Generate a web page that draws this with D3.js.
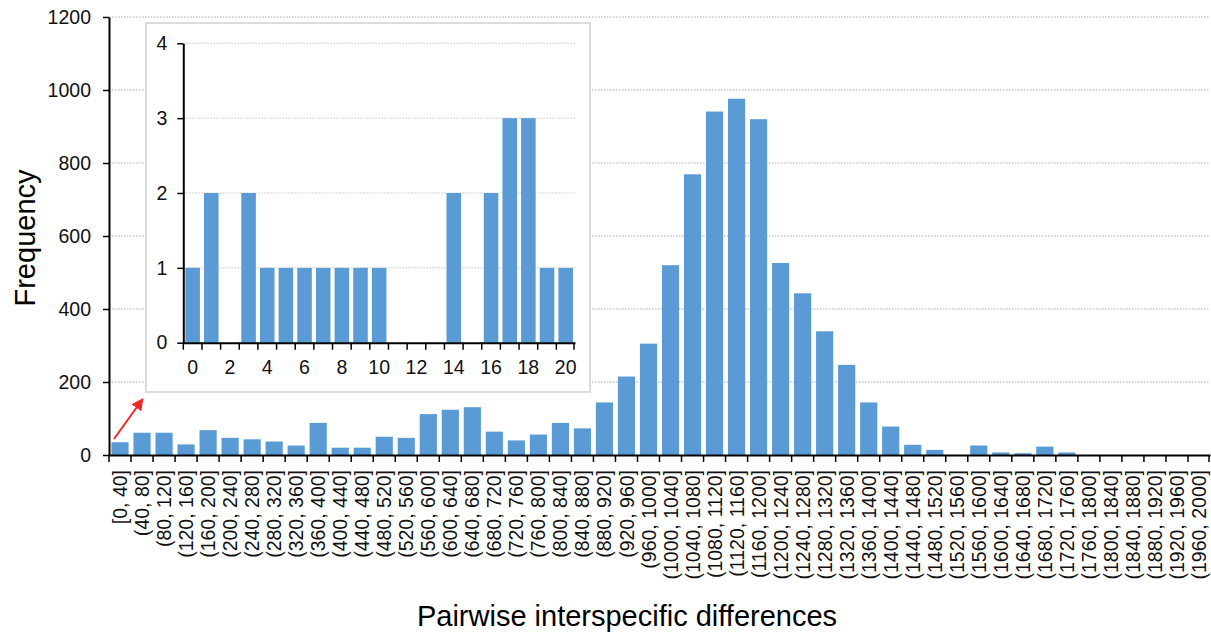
<!DOCTYPE html>
<html>
<head>
<meta charset="utf-8">
<script src="https://cdn.jsdelivr.net/npm/d3@7"></script>
<style>
	body { margin: 0; background: #fff; }
	svg text { font-family: Arial, "Liberation Sans", sans-serif; fill: #000; }
</style>
</head>
<body>
<div id="chart"></div>
<script>
(function () {

	// main histogram: bins of 40
	var binEdges = d3.range(0, 2000, 40);
	var binLabels = binEdges.map(function (e, i) {
		return (i === 0 ? "[" : "(") + e + ", " + (e + 40) + "]";
	});
	var frequency = [
		35, 61, 61, 29, 68, 47, 43, 37, 26, 88,
		20, 20, 50, 47, 112, 124, 131, 64, 40, 56,
		88, 73, 144, 215, 305, 520, 769, 941, 976, 920,
		526, 443, 339, 247, 144, 78, 28, 14, 0, 26,
		7, 5, 23, 7, 0, 0, 0, 0, 0, 0
	];
	var yTicks = [0, 200, 400, 600, 800, 1000, 1200];

	// inset: differences 0..20
	var insetCategories = d3.range(0, 21);
	var insetValues = [1, 2, 0, 2, 1, 1, 1, 1, 1, 1, 1, 0, 0, 0, 2, 0, 2, 3, 3, 1, 1];
	var insetTicks = [0, 1, 2, 3, 4];

	var width = 1211, height = 633;
	var barColor = "#5b9bd5";

	var svg = d3.select("#chart")
				.append("svg")
				.attr("width", width)
				.attr("height", height);

	// ---------- main chart ----------
	var x0 = 109, x1 = 1210, yBase = 455, yTop = 17;

	var x = d3.scaleBand()
			.domain(binLabels)
			.range([x0, x1])
			.paddingInner(0.22)
			.paddingOuter(0.11);

	var y = d3.scaleLinear()
			.domain([0, 1200])
			.range([yBase, yTop]);

	svg.append("g")
		.selectAll("line")
		.data(yTicks.slice(1))
		.enter()
		.append("line")
		.attr("x1", x0)
		.attr("x2", x1)
		.attr("y1", function(d) { return y(d); })
		.attr("y2", function(d) { return y(d); })
		.style("stroke", "#a8a8a8")
		.style("stroke-width", 1)
		.style("stroke-dasharray", "1.5,1.5");

	svg.append("g")
		.selectAll("rect")
		.data(frequency)
		.enter()
		.append("rect")
		.attr("x", function(d, i) { return x(binLabels[i]); })
		.attr("width", x.bandwidth())
		.attr("y", function(d) { return y(d); })
		.attr("height", function(d) { return yBase - y(d); })
		.style("fill", barColor);

	var step = x.step();

	var xAxis = svg.append("g")
		.attr("transform", "translate(0," + yBase + ")")
		.call(d3.axisBottom(x).tickSizeInner(7).tickSizeOuter(0).tickPadding(10));

	xAxis.select(".domain").style("stroke", "#000").style("stroke-width", 2);
	xAxis.selectAll(".tick line")
		.attr("x1", -step / 2)
		.attr("x2", -step / 2)
		.style("stroke-width", 1.5);
	xAxis.append("line")
		.attr("x1", x1 - 1).attr("x2", x1 - 1)
		.attr("y1", 0).attr("y2", 7)
		.style("stroke", "#000")
		.style("stroke-width", 1.5);
	xAxis.selectAll(".tick text")
		.attr("transform", "rotate(-90)")
		.attr("x", -15)
		.attr("y", 0)
		.attr("dy", "0.36em")
		.style("text-anchor", "end")
		.style("font-size", "19.5px")
		.style("fill", "#111");

	var yAxis = svg.append("g")
		.attr("transform", "translate(" + x0 + ",0)")
		.call(d3.axisLeft(y).tickValues(yTicks).tickFormat(d3.format("d"))
			.tickSizeInner(6).tickSizeOuter(0).tickPadding(12));

	yAxis.select(".domain").style("stroke", "#000").style("stroke-width", 2);
	yAxis.selectAll(".tick line").style("stroke-width", 1.5);
	yAxis.selectAll(".tick text")
		.style("font-size", "19.5px")
		.style("fill", "#111");

	svg.append("text")
		.attr("transform", "translate(35,238) rotate(-90)")
		.style("text-anchor", "middle")
		.style("font-size", "29px")
		.text("Frequency");

	svg.append("text")
		.attr("x", 627)
		.attr("y", 626)
		.style("text-anchor", "middle")
		.style("font-size", "29px")
		.text("Pairwise interspecific differences");

	// ---------- inset ----------
	var ix0 = 183.3, ix1 = 575, iyBase = 342.7, iyTop = 43.3;

	svg.append("rect")
		.attr("x", 146)
		.attr("y", 23)
		.attr("width", 444)
		.attr("height", 369)
		.style("fill", "#fff")
		.style("stroke", "#dcdcdc")
		.style("stroke-width", 2);

	var ix = d3.scaleBand()
			.domain(insetCategories)
			.range([ix0, ix1])
			.paddingInner(0.22)
			.paddingOuter(0.11);

	var iy = d3.scaleLinear()
			.domain([0, 4])
			.range([iyBase, iyTop]);

	svg.append("g")
		.selectAll("line")
		.data(insetTicks.slice(1))
		.enter()
		.append("line")
		.attr("x1", ix0)
		.attr("x2", ix1)
		.attr("y1", function(d) { return iy(d); })
		.attr("y2", function(d) { return iy(d); })
		.style("stroke", "#c4c4c4")
		.style("stroke-width", 1)
		.style("stroke-dasharray", "1.5,1.5");

	svg.append("g")
		.selectAll("rect")
		.data(insetValues)
		.enter()
		.append("rect")
		.attr("x", function(d, i) { return ix(insetCategories[i]); })
		.attr("width", ix.bandwidth())
		.attr("y", function(d) { return iy(d); })
		.attr("height", function(d) { return iyBase - iy(d); })
		.style("fill", barColor);

	var istep = ix.step();

	var ixAxis = svg.append("g")
		.attr("transform", "translate(0," + iyBase + ")")
		.call(d3.axisBottom(ix).tickSizeInner(7).tickSizeOuter(0).tickPadding(10));

	ixAxis.select(".domain").style("stroke", "#000").style("stroke-width", 2);
	ixAxis.selectAll(".tick line")
		.attr("x1", -istep / 2)
		.attr("x2", -istep / 2)
		.style("stroke-width", 1.5);
	ixAxis.append("line")
		.attr("x1", ix1 - 1).attr("x2", ix1 - 1)
		.attr("y1", 0).attr("y2", 7)
		.style("stroke", "#000")
		.style("stroke-width", 1.5);
	ixAxis.selectAll(".tick text")
		.style("font-size", "19.5px")
		.style("fill", "#111")
		.text(function(d) { return d % 2 === 0 ? d : ""; });

	var iyAxis = svg.append("g")
		.attr("transform", "translate(" + ix0 + ",0)")
		.call(d3.axisLeft(iy).tickValues(insetTicks).tickFormat(d3.format("d"))
			.tickSizeInner(6).tickSizeOuter(0).tickPadding(10));

	iyAxis.select(".domain").style("stroke", "#000").style("stroke-width", 2);
	iyAxis.selectAll(".tick line").style("stroke-width", 1.5);
	iyAxis.selectAll(".tick text")
		.style("font-size", "19.5px")
		.style("fill", "#111");

	// ---------- red arrow ----------
	svg.append("defs")
		.append("marker")
		.attr("id", "arrowhead")
		.attr("viewBox", "0 0 10 10")
		.attr("refX", 8)
		.attr("refY", 5)
		.attr("markerWidth", 6)
		.attr("markerHeight", 6)
		.attr("orient", "auto")
		.append("path")
		.attr("d", "M0,0 L10,5 L0,10 z")
		.style("fill", "#f02828");

	svg.append("line")
		.attr("x1", 114)
		.attr("y1", 439)
		.attr("x2", 142)
		.attr("y2", 400)
		.style("stroke", "#f02828")
		.style("stroke-width", 2)
		.attr("marker-end", "url(#arrowhead)");

}) ();
</script>
</body>
</html>
